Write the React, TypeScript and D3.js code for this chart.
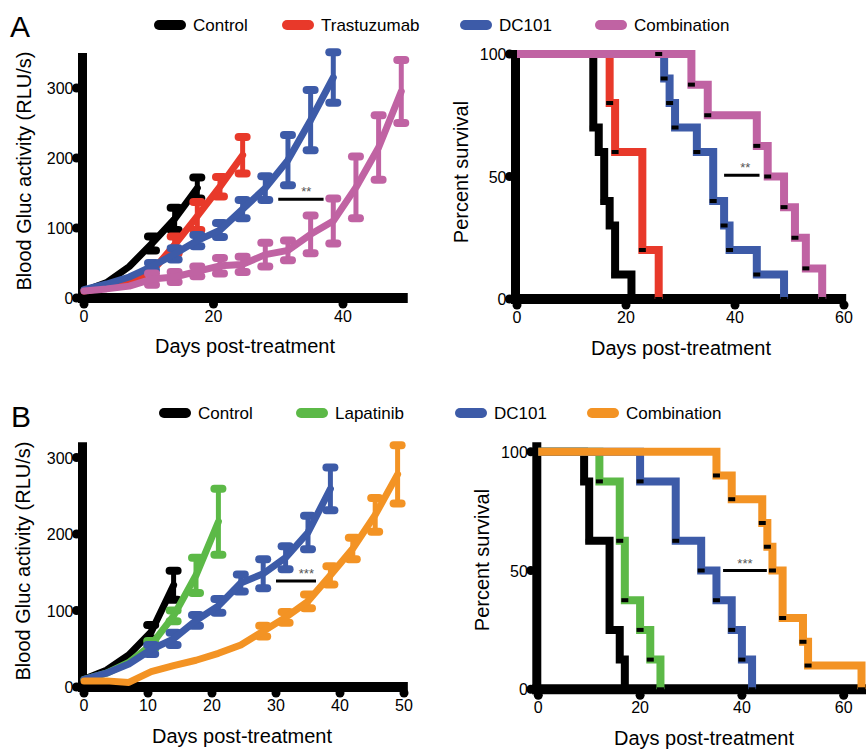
import * as d3 from 'd3'
import React from 'react'

const FONT = '"Liberation Sans", Arial, Helvetica, sans-serif'

// series colours
const BLACK = '#000000'
const RED = '#e8392a'
const BLUE = '#3d5ba8'
const PINK = '#c063a3'
const GREEN = '#5cb947'
const ORANGE = '#f39324'

// measurement days (twice weekly)
const days = [0, 3.5, 7, 10.5, 14, 17.5, 21, 24.5, 28, 31.5, 35, 38.5, 42, 45.5, 49]

// Panel A growth, mean and SEM (RLU/s)
const ctrlA = [10, 22, 45, 78, 113, 157]
const ctrlASem = [1, 2, 4, 10, 16, 15]
const trastA = [10, 15, 24, 38, 76, 117, 159, 204]
const trastASem = [1, 1, 2, 4, 12, 20, 14, 26]
const dc101A = [12, 20, 30, 45, 63, 82, 97, 127, 157, 197, 254, 315]
const dc101ASem = [1, 2, 3, 5, 8, 8, 10, 13, 17, 36, 43, 36]
const comboA = [10, 13, 17, 27, 30, 38, 46, 48, 62, 68, 91, 110, 158, 215, 295]
const comboASem = [1, 1, 2, 8, 7, 7, 11, 11, 17, 14, 27, 32, 44, 46, 45]

// Panel B growth
const ctrlB = [10, 22, 42, 72, 133]
const ctrlBSem = [1, 2, 4, 9, 19]
const lapB = [10, 18, 32, 55, 93, 146, 216]
const lapBSem = [1, 2, 3, 5, 7, 23, 43]
const dc101B = [10, 18, 30, 49, 63, 87, 106, 136, 148, 169, 202, 259]
const dc101BSem = [1, 2, 3, 6, 8, 7, 9, 11, 19, 15, 22, 28]
const comboB = [8, 8, 6, 20, 28, 35, 44, 55, 73, 91, 112, 146, 181, 225, 278]
const comboBSem = [0, 0, 0, 2, 2, 3, 3, 3, 7, 7, 9, 12, 14, 22, 38]

// Panel A survival: day of each drop and percent after it
const survCtrlADays = [14, 15, 16, 17, 18, 21]
const survCtrlAPct = [70, 60, 40, 30, 10, 0]
const survTrastADays = [17, 18, 23, 26]
const survTrastAPct = [80, 60, 20, 0]
const survDc101ADays = [27, 28, 29, 33, 36, 38, 39, 44, 49]
const survDc101APct = [90, 80, 70, 60, 40, 30, 20, 10, 0]
const survDc101ACensor = [26]
const survComboADays = [32, 35, 44, 46, 49, 51, 53, 56]
const survComboAPct = [87.5, 75, 62.5, 50, 37.5, 25, 12.5, 0]

// Panel B survival
const survCtrlBDays = [9, 10, 14, 16, 17]
const survCtrlBPct = [87.5, 62.5, 25, 12.5, 0]
const survLapBDays = [12, 16, 17, 20, 22, 24]
const survLapBPct = [87.5, 62.5, 37.5, 25, 12.5, 0]
const survDc101BDays = [20, 27, 32, 35, 38, 40, 42]
const survDc101BPct = [87.5, 62.5, 50, 37.5, 25, 12.5, 0]
const survComboBDays = [35, 38, 44, 45, 46, 48, 52, 53, 63.5]
const survComboBPct = [90, 80, 70, 60, 50, 30, 20, 10, 0]

const growthTicksA = [0, 20, 40]
const growthTicksB = [0, 10, 20, 30, 40, 50]
const growthYTicks = [0, 100, 200, 300]
const survXTicks = [0, 20, 40, 60]
const survYTicks = [0, 50, 100]

// black axes with round dot ticks
function Axes({ x, y, xTicks, yTicks, xEnd, yTop }) {
  const ax = x(0) - 1.5
  const y0 = y(0)
  return (
    <g fontFamily={FONT} fontSize={16}>
      <line x1={ax} x2={ax} y1={y(yTop)} y2={y0 + 5} stroke="#000" strokeWidth={9} />
      <line x1={ax - 4.5} x2={x(xEnd)} y1={y0} y2={y0} stroke="#000" strokeWidth={10} />
      {xTicks.map((t) => (
        <g key={'x' + t}>
          <circle cx={x(t)} cy={y0 + 6} r={4.5} fill="#000" />
          <text x={x(t)} y={y0 + 24} textAnchor="middle">{t}</text>
        </g>
      ))}
      {yTicks.map((t) => (
        <g key={'y' + t}>
          <circle cx={ax - 6} cy={y(t)} r={4.5} fill="#000" />
          <text x={ax - 9} y={y(t) + 6} textAnchor="end">{t}</text>
        </g>
      ))}
    </g>
  )
}

function Sig({ x, y, d0, d1, v, stars, at }) {
  return (
    <g>
      <line x1={x(d0)} x2={x(d1)} y1={y(v)} y2={y(v)} stroke="#000" strokeWidth={3} />
      <text x={x(d0) + (x(d1) - x(d0)) * at} y={y(v) - 3} textAnchor="middle"
        fontFamily={FONT} fontSize={13} fill="#555">{stars}</text>
    </g>
  )
}

function Growth({ series, x, y }) {
  const line = d3.line().x((_, i) => x(days[i])).y((d) => y(d))
  return (
    <g>
      {series.map((s, k) => (
        <g key={k}>
          {s.mean.map((m, i) => {
            const e = s.sem[i]
            if (e < 5) return null
            const cx = x(days[i])
            return (
              <g key={i} stroke={s.color} strokeLinecap="round">
                <line x1={cx} x2={cx} y1={y(m - e)} y2={y(m + e)} strokeWidth={5} />
                <line x1={cx - 4} x2={cx + 4} y1={y(m + e)} y2={y(m + e)} strokeWidth={8} />
                <line x1={cx - 4} x2={cx + 4} y1={y(m - e)} y2={y(m - e)} strokeWidth={8} />
              </g>
            )
          })}
          <path d={line(s.mean)} fill="none" stroke={s.color} strokeWidth={7}
            strokeLinejoin="round" strokeLinecap="round" />
        </g>
      ))}
    </g>
  )
}

function Survival({ groups, x, y }) {
  const step = d3.line().x((d) => x(d[0])).y((d) => y(d[1])).curve(d3.curveStepAfter)
  return (
    <g>
      {groups.map((g, k) => {
        const pts = [[0, 100], ...g.days.map((d, i) => [d, g.pct[i]])]
        return <path key={k} d={step(pts)} fill="none" stroke={g.color} strokeWidth={8} />
      })}
      {groups.map((g, k) => (
        <g key={'m' + k}>
          {g.days.map((d, i) => (
            <rect key={i} x={x(d) - 3.5} y={y(g.pct[i]) - 2} width={7} height={4} fill="#000" />
          ))}
          {(g.censor || []).map((d, i) => (
            <rect key={'c' + i} x={x(d) - 3.5} y={y(100) - 2} width={7} height={4} fill="#000" />
          ))}
        </g>
      ))}
    </g>
  )
}

function Legend({ items, y }) {
  return (
    <g fontFamily={FONT} fontSize={17}>
      {items.map((it) => (
        <g key={it.label}>
          <line x1={it.x + 5} x2={it.x + 27} y1={y} y2={y} stroke={it.color} strokeWidth={10} strokeLinecap="round" />
          <text x={it.x + 39} y={y + 6}>{it.label}</text>
        </g>
      ))}
    </g>
  )
}

function Titles({ yx, yy, ylabel, xx, xy }) {
  return (
    <g fontFamily={FONT} fontSize={20}>
      <text transform={`translate(${yx},${yy}) rotate(-90)`} textAnchor="middle" dominantBaseline="central">{ylabel}</text>
      <text x={xx} y={xy} textAnchor="middle">Days post-treatment</text>
    </g>
  )
}

export default function App() {
  const gxA = d3.scaleLinear().domain([0, 50]).range([84, 407.75])
  const gyA = d3.scaleLinear().domain([0, 350]).range([298, 53])
  const sxA = d3.scaleLinear().domain([0, 60]).range([517, 844])
  const syA = d3.scaleLinear().domain([0, 100]).range([299, 54])
  const gxB = d3.scaleLinear().domain([0, 50]).range([84, 404])
  const gyB = d3.scaleLinear().domain([0, 300]).range([687, 457.5])
  const sxB = d3.scaleLinear().domain([0, 60]).range([538.3, 843.7])
  const syB = d3.scaleLinear().domain([0, 100]).range([689.3, 451.7])

  const growthA = [
    { color: BLACK, mean: ctrlA, sem: ctrlASem },
    { color: RED, mean: trastA, sem: trastASem },
    { color: BLUE, mean: dc101A, sem: dc101ASem },
    { color: PINK, mean: comboA, sem: comboASem },
  ]
  const growthB = [
    { color: BLACK, mean: ctrlB, sem: ctrlBSem },
    { color: GREEN, mean: lapB, sem: lapBSem },
    { color: BLUE, mean: dc101B, sem: dc101BSem },
    { color: ORANGE, mean: comboB, sem: comboBSem },
  ]
  const survA = [
    { color: BLACK, days: survCtrlADays, pct: survCtrlAPct },
    { color: RED, days: survTrastADays, pct: survTrastAPct },
    { color: BLUE, days: survDc101ADays, pct: survDc101APct, censor: survDc101ACensor },
    { color: PINK, days: survComboADays, pct: survComboAPct },
  ]
  const survB = [
    { color: BLACK, days: survCtrlBDays, pct: survCtrlBPct },
    { color: GREEN, days: survLapBDays, pct: survLapBPct },
    { color: BLUE, days: survDc101BDays, pct: survDc101BPct },
    { color: ORANGE, days: survComboBDays, pct: survComboBPct },
  ]

  return (
    <svg width={866} height={750} style={{ position: 'absolute', left: 0, top: 0, background: '#fff' }}>
      <rect width={866} height={750} fill="#fff" />
      <text x={10} y={37} fontFamily={FONT} fontSize={30}>A</text>
      <text x={11} y={427} fontFamily={FONT} fontSize={30}>B</text>

      <Legend y={25} items={[
        { label: 'Control', color: BLACK, x: 154 },
        { label: 'Trastuzumab', color: RED, x: 282 },
        { label: 'DC101', color: BLUE, x: 460 },
        { label: 'Combination', color: PINK, x: 595 },
      ]} />
      <Legend y={413} items={[
        { label: 'Control', color: BLACK, x: 159 },
        { label: 'Lapatinib', color: GREEN, x: 296 },
        { label: 'DC101', color: BLUE, x: 455 },
        { label: 'Combination', color: ORANGE, x: 587 },
      ]} />

      {/* A: growth */}
      <Axes x={gxA} y={gyA} xTicks={growthTicksA} yTicks={growthYTicks} xEnd={50} yTop={350} />
      <Growth series={growthA} x={gxA} y={gyA} />
      <Sig x={gxA} y={gyA} d0={30} d1={37} v={141} stars="**" at={0.62} />
      <Titles yx={24} yy={171} ylabel="Blood Gluc activity (RLU/s)" xx={245} xy={353} />

      {/* A: survival */}
      <Axes x={sxA} y={syA} xTicks={survXTicks} yTicks={survYTicks} xEnd={60.4} yTop={101.6} />
      <Survival groups={survA} x={sxA} y={syA} />
      <Sig x={sxA} y={syA} d0={38} d1={44.5} v={50.5} stars="**" at={0.6} />
      <Titles yx={461} yy={172} ylabel="Percent survival" xx={681} xy={355} />

      {/* B: growth */}
      <Axes x={gxB} y={gyB} xTicks={growthTicksB} yTicks={growthYTicks} xEnd={50.6} yTop={320} />
      <Growth series={growthB} x={gxB} y={gyB} />
      <Sig x={gxB} y={gyB} d0={30} d1={36.25} v={138.5} stars="***" at={0.76} />
      <Titles yx={23} yy={561} ylabel="Blood Gluc activity (RLU/s)" xx={242} xy={743} />

      {/* B: survival */}
      <Axes x={sxB} y={syB} xTicks={survXTicks} yTicks={survYTicks} xEnd={66} yTop={104} />
      <Survival groups={survB} x={sxB} y={syB} />
      <Sig x={sxB} y={syB} d0={36.3} d1={44.9} v={50} stars="***" at={0.5} />
      <Titles yx={482} yy={560} ylabel="Percent survival" xx={704} xy={745} />
    </svg>
  )
}
